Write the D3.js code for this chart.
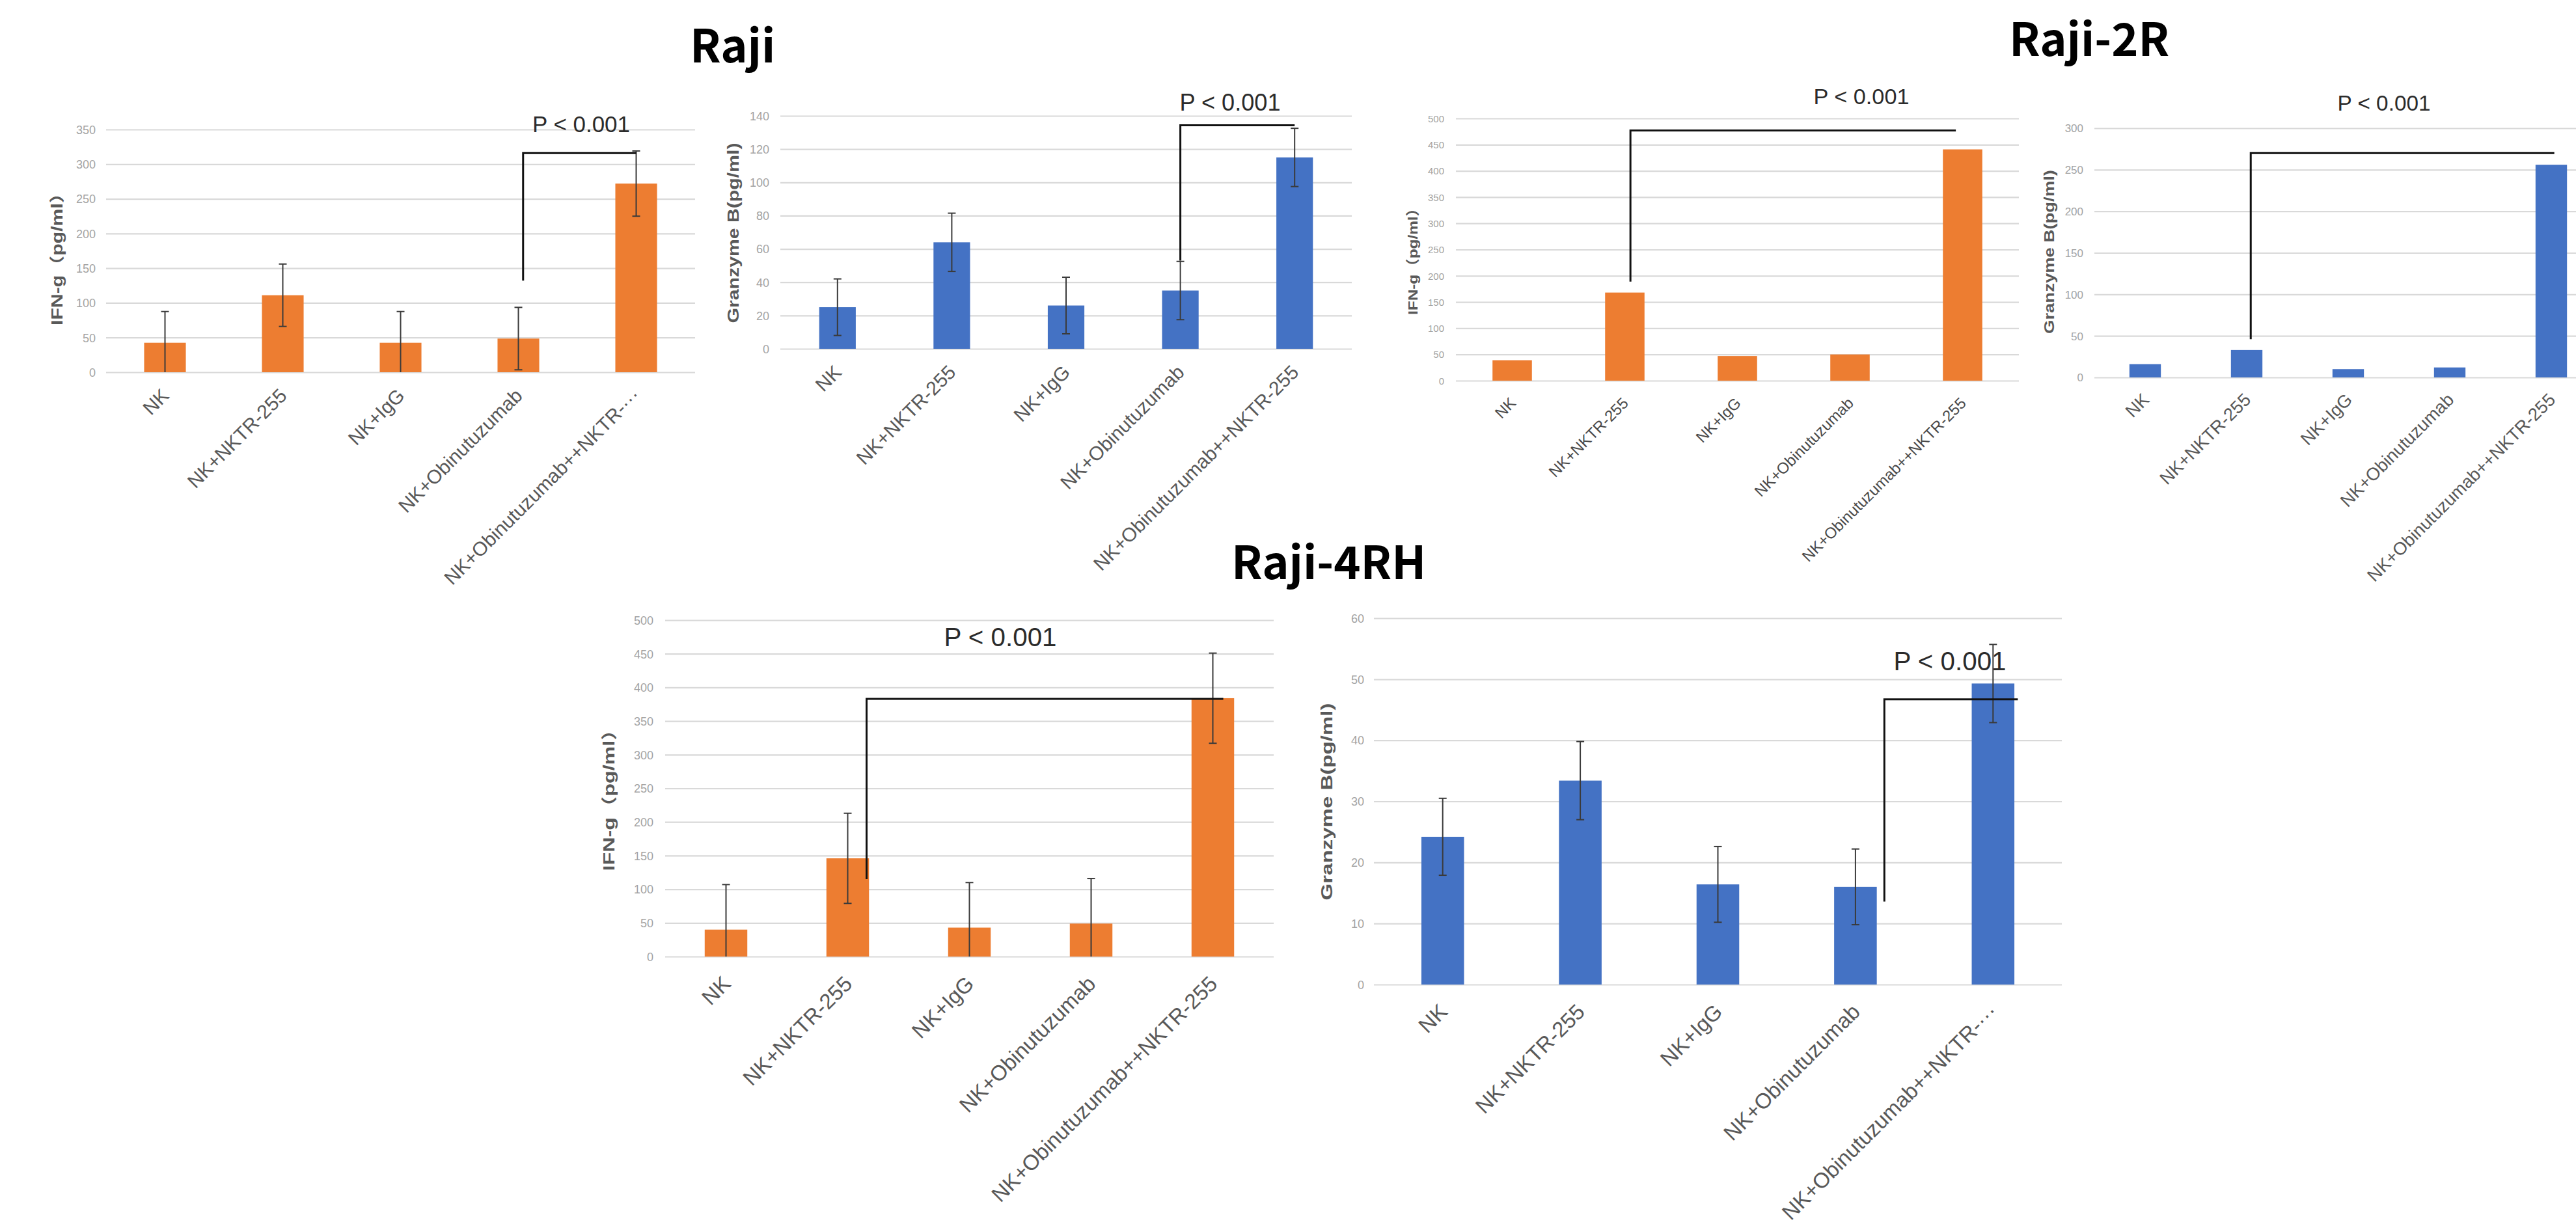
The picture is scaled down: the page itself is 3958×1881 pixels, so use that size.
<!DOCTYPE html>
<html>
<head>
<meta charset="utf-8">
<script src="https://cdn.jsdelivr.net/npm/d3@7"></script>
<style>
  html, body { margin: 0; padding: 0; background: #ffffff; }
  svg { display: block; }
</style>
</head>
<body>
<svg id="fig" width="3958" height="1881"></svg>
<script>
// ---- data -------------------------------------------------------------
const categories = ["NK", "NK+NKTR-255", "NK+IgG", "NK+Obinutuzumab", "NK+Obinutuzumab++NKTR-255"];
const categoriesCut = ["NK", "NK+NKTR-255", "NK+IgG", "NK+Obinutuzumab", "NK+Obinutuzumab++NKTR-\u00b7\u00b7\u00b7"];

// Raji
const rajiIfn      = [42.5, 111, 42.5, 48.5, 272];
const rajiIfnErr   = [45, 45, 45, 45, 47];
const rajiGzm      = [25, 64, 26, 35, 115];
const rajiGzmErr   = [17, 17.5, 17, 17.5, 17.5];
// Raji-2R
const raji2rIfn    = [39, 168, 47, 50, 441];
const raji2rGzm    = [16, 33, 10, 12, 256];
// Raji-4RH
const raji4rhIfn    = [40, 146, 43, 49, 384];
const raji4rhIfnErr = [67, 67, 67, 67, 67];
const raji4rhGzm    = [24.2, 33.4, 16.4, 16.0, 49.3];
const raji4rhGzmErr = [6.3, 6.4, 6.2, 6.2, 6.4];

// tick labels of each y axis
const ticksRajiIfn   = [0, 50, 100, 150, 200, 250, 300, 350];
const ticksRajiGzm   = [0, 20, 40, 60, 80, 100, 120, 140];
const ticks2rIfn     = [0, 50, 100, 150, 200, 250, 300, 350, 400, 450, 500];
const ticks2rGzm     = [0, 50, 100, 150, 200, 250, 300];
const ticks4rhIfn    = [0, 50, 100, 150, 200, 250, 300, 350, 400, 450, 500];
const ticks4rhGzm    = [0, 10, 20, 30, 40, 50, 60];

// significance brackets: [from group, to group, bracket level, left leg end]
const sigRajiIfn  = [3, 4, 316, 132];
const sigRajiGzm  = [3, 4, 134.3, 53];
const sig2rIfn    = [1, 4, 477, 189];
const sig2rGzm    = [1, 4, 270, 46];
const sig4rhIfn   = [1, 4, 383, 115];
const sig4rhGzm   = [3, 4, 46.7, 13.6];
const pText = "P < 0.001";

const titles = ["Raji", "Raji-2R", "Raji-4RH"];

// ---- styling ----------------------------------------------------------
const ORANGE = "#ED7D31";
const BLUE = "#4472C4";
const GRID = "#d9d9d9";
const LABEL_FONT = "'Liberation Sans', Arial, sans-serif";

const svg = d3.select("#fig");

function drawPanel(p) {
  const g = svg.append("g");
  const idx = d3.range(p.values.length);
  const x = d3.scaleBand().domain(idx).range([p.x0, p.x1]).paddingInner(0).paddingOuter(0);
  const y = d3.scaleLinear().domain([0, p.max]).range([p.yBot, p.yTop]).clamp(true);
  const bw = x.bandwidth();
  const cx = i => x(i) + bw / 2;

  // horizontal gridlines + tick labels
  const yAxis = d3.axisLeft(y)
    .tickValues(p.ticks)
    .tickSize(-(p.x1 - p.x0))
    .tickPadding(p.tickGap)
    .tickFormat(d3.format("d"));
  const ya = g.append("g").attr("transform", `translate(${p.x0},0)`).call(yAxis);
  ya.select(".domain").remove();
  ya.selectAll(".tick line").attr("stroke", GRID).attr("stroke-width", 2.2);
  ya.selectAll(".tick text")
    .attr("fill", "#a3a3a3")
    .attr("font-family", LABEL_FONT)
    .attr("font-size", p.tickSize)
    .attr("dy", "0.35em");

  // bars
  const barW = bw * p.barFrac;
  g.append("g").selectAll("rect").data(p.values).join("rect")
    .attr("x", (d, i) => cx(i) - barW / 2)
    .attr("y", d => y(d))
    .attr("width", barW)
    .attr("height", d => y(0) - y(d))
    .attr("fill", p.color);

  // error bars
  if (p.err) {
    const eg = g.append("g").attr("stroke", "#3a3a3a").attr("stroke-width", 2);
    p.values.forEach((v, i) => {
      const hi = y(v + p.err[i]), lo = y(v - p.err[i]);
      eg.append("line").attr("x1", cx(i)).attr("x2", cx(i)).attr("y1", hi).attr("y2", lo);
      eg.append("line").attr("x1", cx(i) - 6).attr("x2", cx(i) + 6).attr("y1", hi).attr("y2", hi);
      if (v - p.err[i] > 0)
        eg.append("line").attr("x1", cx(i) - 6).attr("x2", cx(i) + 6).attr("y1", lo).attr("y2", lo);
    });
  }

  // category labels, rotated
  const xAxis = d3.axisBottom(x).tickSize(0).tickFormat(i => p.labels[i]);
  const xa = g.append("g").attr("transform", `translate(0,${p.yBot})`).call(xAxis);
  xa.select(".domain").remove();
  xa.selectAll(".tick text")
    .attr("x", 0).attr("y", 0).attr("dy", 0)
    .attr("transform", `translate(${p.labDx},${p.labDy}) rotate(-45)`)
    .attr("text-anchor", "end")
    .attr("fill", p.labColor)
    .attr("font-family", LABEL_FONT)
    .attr("font-size", p.labSize);

  // y axis title
  g.append("text")
    .attr("transform", `translate(${p.titleX},${p.titleY}) rotate(-90)`)
    .attr("text-anchor", "middle")
    .attr("dominant-baseline", "central")
    .attr("font-family", "'Liberation Sans', 'Noto Sans CJK SC', Arial, sans-serif")
    .attr("font-weight", "bold")
    .attr("font-size", p.titleSize)
    .attr("fill", "#595959")
    .attr("textLength", p.titleLen)
    .attr("lengthAdjust", "spacingAndGlyphs")
    .text(p.yTitle);

  // significance bracket
  const [a, b, level, leg] = p.sig;
  const xl = cx(a) + bw * p.legOff[0];
  const xr = cx(b) + bw * p.legOff[1];
  g.append("path")
    .attr("d", `M${xl},${y(leg)}V${y(level)}H${xr}`)
    .attr("fill", "none")
    .attr("stroke", "#111")
    .attr("stroke-width", 3);

  g.append("text")
    .attr("x", p.pX).attr("y", p.pY)
    .attr("text-anchor", "middle")
    .attr("font-family", LABEL_FONT)
    .attr("font-size", p.pSize)
    .attr("fill", "#2b2b2b")
    .attr("textLength", p.pLen)
    .attr("lengthAdjust", "spacingAndGlyphs")
    .text(pText);
}

const IFN_TITLE = "IFN-g\uff08pg/ml\uff09";
const GZM_TITLE = "Granzyme B(pg/ml)";

const panels = [
  { values: rajiIfn, err: rajiIfnErr, ticks: ticksRajiIfn, max: 350, color: ORANGE, labels: categoriesCut,
    x0: 163, x1: 1068, yTop: 199, yBot: 572, barFrac: 0.354, tickGap: 16, tickSize: 18,
    labSize: 30, labDx: 8, labDy: 38, labColor: "#595959",
    yTitle: IFN_TITLE, titleX: 88, titleY: 391, titleSize: 23, titleLen: 218,
    sig: sigRajiIfn, legOff: [0.04, 0], pX: 893, pY: 203, pSize: 35, pLen: 150 },
  { values: rajiGzm, err: rajiGzmErr, ticks: ticksRajiGzm, max: 140, color: BLUE, labels: categories,
    x0: 1199, x1: 2077, yTop: 178, yBot: 536, barFrac: 0.32, tickGap: 17, tickSize: 18,
    labSize: 30, labDx: 8, labDy: 38, labColor: "#595959",
    yTitle: GZM_TITLE, titleX: 1126, titleY: 358, titleSize: 24, titleLen: 277,
    sig: sigRajiGzm, legOff: [0, 0], pX: 1890, pY: 170, pSize: 36, pLen: 155 },
  { values: raji2rIfn, err: null, ticks: ticks2rIfn, max: 500, color: ORANGE, labels: categories,
    x0: 2237, x1: 3102, yTop: 182, yBot: 585, barFrac: 0.35, tickGap: 18, tickSize: 15,
    labSize: 24, labDx: 7, labDy: 36, labColor: "#4a4a4a",
    yTitle: IFN_TITLE, titleX: 2170, titleY: 396, titleSize: 21, titleLen: 176,
    sig: sig2rIfn, legOff: [0.05, -0.06], pX: 2860, pY: 160, pSize: 34, pLen: 147 },
  { values: raji2rGzm, err: null, ticks: ticks2rGzm, max: 300, color: BLUE, labels: categories,
    x0: 3218, x1: 3998, yTop: 197, yBot: 580, barFrac: 0.31, tickGap: 17, tickSize: 17,
    labSize: 27.5, labDx: 8, labDy: 36, labColor: "#595959",
    yTitle: GZM_TITLE, titleX: 3148, titleY: 387, titleSize: 22, titleLen: 252,
    sig: sig2rGzm, legOff: [0.04, 0.03], pX: 3663, pY: 170, pSize: 33, pLen: 143 },
  { values: raji4rhIfn, err: raji4rhIfnErr, ticks: ticks4rhIfn, max: 500, color: ORANGE, labels: categories,
    x0: 1022, x1: 1957, yTop: 953, yBot: 1470, barFrac: 0.35, tickGap: 18, tickSize: 18,
    labSize: 33, labDx: 9, labDy: 44, labColor: "#595959",
    yTitle: IFN_TITLE, titleX: 935, titleY: 1222, titleSize: 24, titleLen: 233,
    sig: sig4rhIfn, legOff: [0.155, 0.086], pX: 1537, pY: 993, pSize: 40, pLen: 173 },
  { values: raji4rhGzm, err: raji4rhGzmErr, ticks: ticks4rhGzm, max: 60, color: BLUE, labels: categoriesCut,
    x0: 2111, x1: 3168, yTop: 950, yBot: 1513, barFrac: 0.31, tickGap: 15, tickSize: 18,
    labSize: 33, labDx: 9, labDy: 44, labColor: "#595959",
    yTitle: GZM_TITLE, titleX: 2038, titleY: 1232, titleSize: 24, titleLen: 303,
    sig: sig4rhGzm, legOff: [0.21, 0.18], pX: 2996, pY: 1030, pSize: 40, pLen: 173 }
];

panels.forEach(drawPanel);

// cell line titles
const titlePos = [[1060, 96], [3087, 86], [1892, 890]];
svg.append("g").selectAll("text").data(titles).join("text")
  .attr("x", (d, i) => titlePos[i][0])
  .attr("y", (d, i) => titlePos[i][1])
  .attr("font-family", "'Noto Sans CJK SC', 'Noto Sans', sans-serif")
  .attr("font-weight", "bold")
  .attr("font-size", 70)
  .attr("fill", "#000")
  .text(d => d);
</script>
</body>
</html>
